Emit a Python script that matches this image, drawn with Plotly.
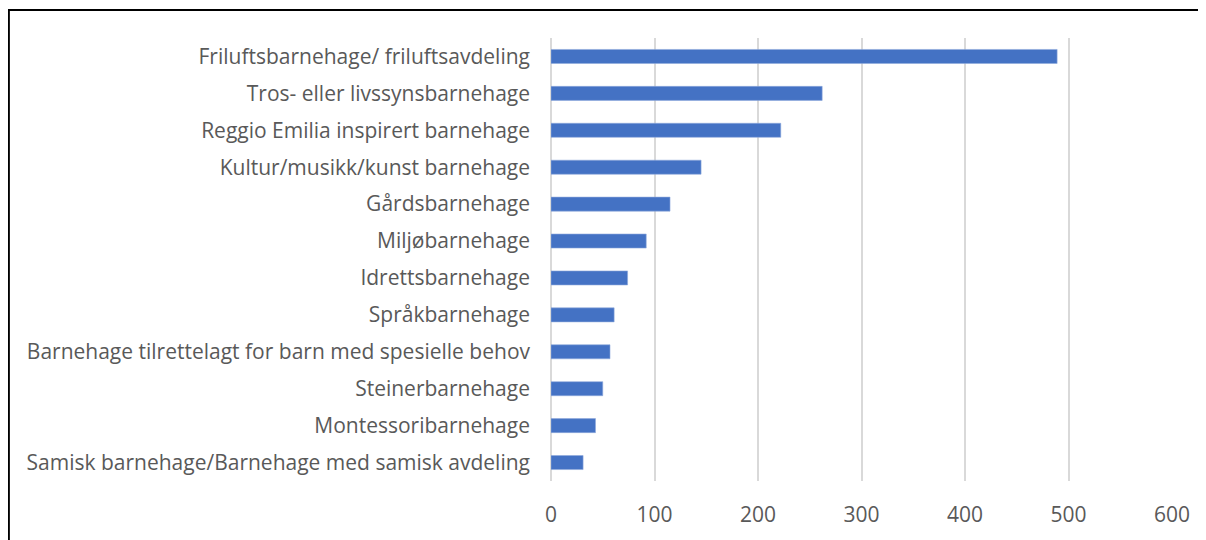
import plotly.graph_objects as go

# categories (top to bottom as in the chart)
categories = [
    "Friluftsbarnehage/ friluftsavdeling",
    "Tros- eller livssynsbarnehage",
    "Reggio Emilia inspirert barnehage",
    "Kultur/musikk/kunst barnehage",
    "Gårdsbarnehage",
    "Miljøbarnehage",
    "Idrettsbarnehage",
    "Språkbarnehage",
    "Barnehage tilrettelagt for barn med spesielle behov",
    "Steinerbarnehage",
    "Montessoribarnehage",
    "Samisk barnehage/Barnehage med samisk avdeling",
]
values = [489, 262, 222, 145, 115, 92, 74, 61, 57, 50, 43, 31]
x_ticks = [0, 100, 200, 300, 400, 500, 600]

fig = go.Figure(
    go.Bar(
        x=values[::-1],
        y=categories[::-1],
        orientation="h",
        width=0.38,
        marker=dict(color="#4472C4", line=dict(color="#8FAADC", width=0.6)),
    )
)

# page body has an 8px margin, so the figure is a bit smaller than the window
fig.update_layout(
    width=1198,
    height=532,
    margin=dict(l=543, r=34, t=30, b=57),
    paper_bgcolor="white",
    plot_bgcolor="white",
    showlegend=False,
    font=dict(family="Open Sans, Lato, sans-serif", size=21, color="#595959"),
)
fig.update_xaxes(
    range=[0, 600],
    tickvals=x_ticks,
    showgrid=True,
    gridcolor="#D9D9D9",
    gridwidth=1.5,
    zeroline=True,
    zerolinecolor="#D9D9D9",
    zerolinewidth=1.5,
    ticklabelstandoff=19,
    fixedrange=True,
)
fig.update_yaxes(
    showgrid=False,
    ticklabelstandoff=20,
    automargin=False,
    fixedrange=True,
)
# chart border (runs off the right and bottom edges)
fig.add_shape(
    type="rect",
    xref="paper",
    yref="paper",
    x0=-0.873,
    x1=1.2,
    y0=-0.3,
    y1=1.063,
    line=dict(color="black", width=2),
)

fig.write_html("out.html")
